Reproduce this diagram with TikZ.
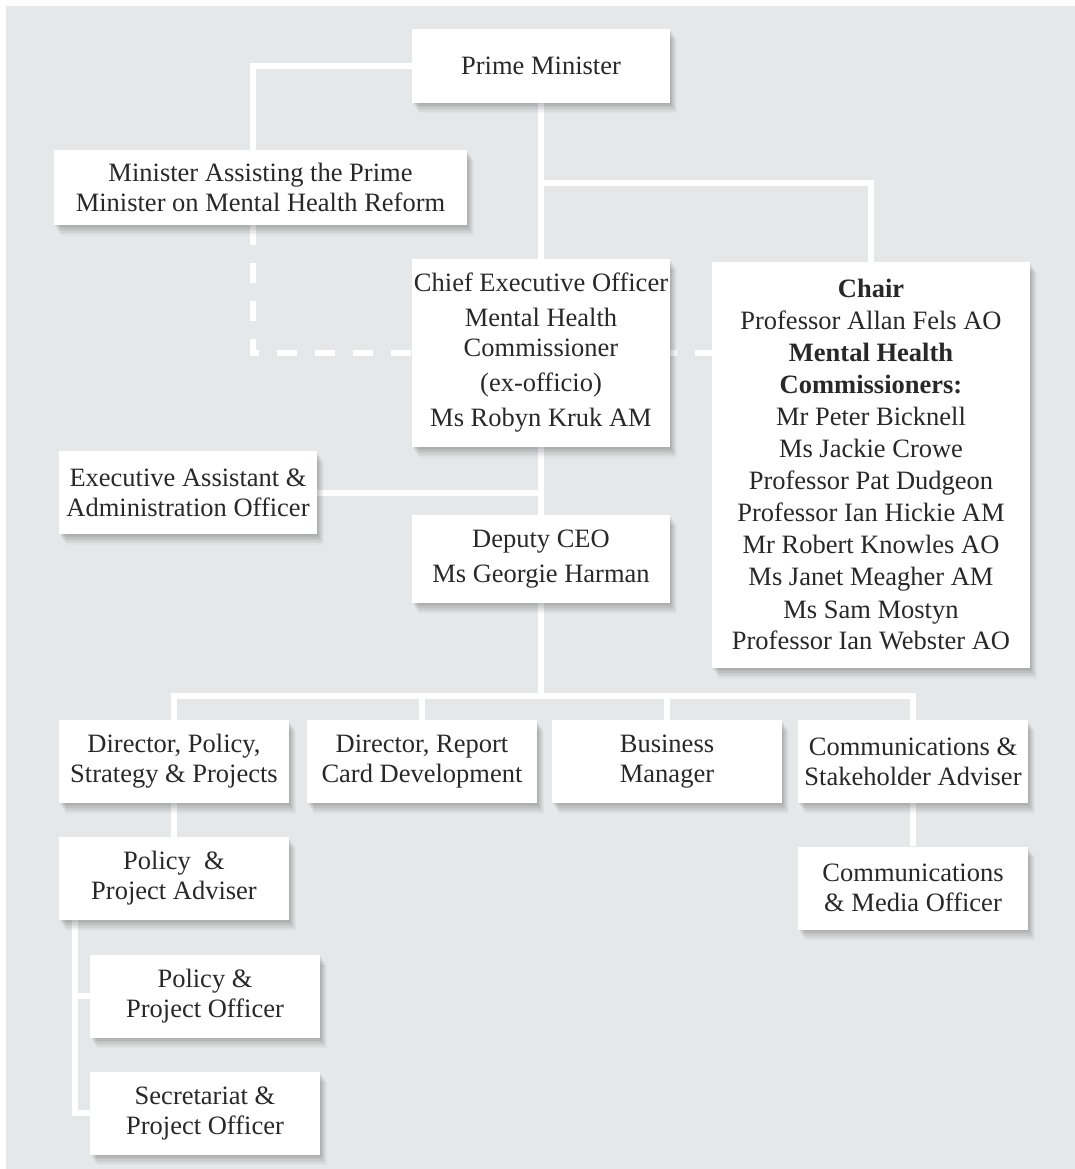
\documentclass[tikz,border=0pt]{standalone}
\usepackage{fontspec}
\setmainfont{Liberation Serif}
\usetikzlibrary{backgrounds,shadows}

\definecolor{panelgray}{RGB}{230,231,232}
\definecolor{inkgray}{RGB}{40,40,40}

\tikzset{
    softshadow/.style={
        drop shadow={shadow xshift=1pt,shadow yshift=-1.5pt,fill=black,opacity=.045},
        drop shadow={shadow xshift=2pt,shadow yshift=-3pt,fill=black,opacity=.045},
        drop shadow={shadow xshift=3pt,shadow yshift=-4.5pt,fill=black,opacity=.045},
        drop shadow={shadow xshift=4pt,shadow yshift=-6pt,fill=black,opacity=.04},
        drop shadow={shadow xshift=5pt,shadow yshift=-7.5pt,fill=black,opacity=.035},
        drop shadow={shadow xshift=6pt,shadow yshift=-9pt,fill=black,opacity=.03},
        drop shadow={shadow xshift=7pt,shadow yshift=-10.5pt,fill=black,opacity=.025}}
}

\begin{document}
\begin{tikzpicture}[x=1pt,y=-1pt,
    unit/.style={fill=white, align=center, inner sep=0pt, text=inkgray,
      minimum width=230pt, minimum height=83pt,
      font=\fontsize{26.5}{30}\selectfont, softshadow},
    link/.style={draw=white, line width=6pt},
    dashlink/.style={link, dash pattern=on 20pt off 18pt}]

    \useasboundingbox (0,0) rectangle (1075,1169);

    % Top of the chart
    \node[unit, minimum width=258pt, minimum height=74pt] (pm) at (541,66) {Prime Minister};
    \node[unit, minimum width=413pt, minimum height=75pt] (minister) at (260.5,187.5)
        {Minister Assisting the Prime\\Minister on Mental Health Reform};
    \node[unit, minimum width=258pt, minimum height=188pt] (ceo) at (541,353)
        {Chief Executive Officer\\[5pt]Mental Health\\Commissioner\\[5pt](ex-officio)\\[5pt]Ms Robyn Kruk AM};
    \node[unit, minimum width=318pt, minimum height=406pt, font=\fontsize{26.5}{32}\selectfont] (chair) at (871,465)
        {\textbf{Chair}\\Professor Allan Fels AO\\\textbf{Mental Health}\\\textbf{Commissioners:}\\
         Mr Peter Bicknell\\Ms Jackie Crowe\\Professor Pat Dudgeon\\Professor Ian Hickie AM\\
         Mr Robert Knowles AO\\Ms Janet Meagher AM\\Ms Sam Mostyn\\Professor Ian Webster AO};

    % Office of the CEO
    \node[unit, minimum width=258pt] (assistant) at (188,492.5) {Executive Assistant \&\\Administration Officer};
    \node[unit, minimum width=258pt, minimum height=88pt] (deputy) at (541,559) {Deputy CEO\\[5pt]Ms Georgie Harman};

    % Directors and advisers
    \foreach \nm/\xc/\txt in {
        dpolicy/174/{Director, Policy,\\Strategy \& Projects},
        dreport/422/{Director, Report\\Card Development},
        business/667/{Business\\Manager},
        comms/913/{Communications \&\\Stakeholder Adviser}} {
        \node[unit] (\nm) at (\xc,761.5) {\txt};
    }
    \node[unit] (adviser) at (174,878.5) {Policy\ \ \&\\Project Adviser};
    \node[unit] (officer) at (205,996) {Policy \&\\Project Officer};
    \node[unit] (secretariat) at (205,1113) {Secretariat \&\\Project Officer};
    \node[unit] (media) at (913,888) {Communications\\\& Media Officer};

    \begin{scope}[on background layer]
        \fill[panelgray] (6,6) rectangle (1075,1169);

        % Reporting lines
        \coordinate (split) at (541,183);
        \coordinate (bar) at (541,696);
        \draw[link] (pm.west) -| ([xshift=-8pt]minister.north);
        \draw[link] (pm.south) -- (ceo.north);
        \draw[link] (split) -| (chair.north);
        \draw[dashlink] ([xshift=-8pt]minister.south) |- (ceo.center -| chair.west);
        \draw[link] (ceo.south) -- (deputy.north);
        \draw[link] (assistant.east) -- (assistant.east -| ceo.south);
        \draw[link] (deputy.south) -- (bar);
        \draw[link] (dpolicy.north) |- (bar) -| (comms.north);
        \foreach \nm in {dreport,business}
            \draw[link] (\nm.north) -- (\nm.north |- bar);
        \draw[link] (dpolicy.south) -- (adviser.north);
        \draw[link] ([xshift=16pt]adviser.south west) |- (officer.west);
        \draw[link] ([xshift=16pt]adviser.south west) |- (secretariat.west);
        \draw[link] (comms.south) -- (media.north);
    \end{scope}

\end{tikzpicture}
\end{document}
